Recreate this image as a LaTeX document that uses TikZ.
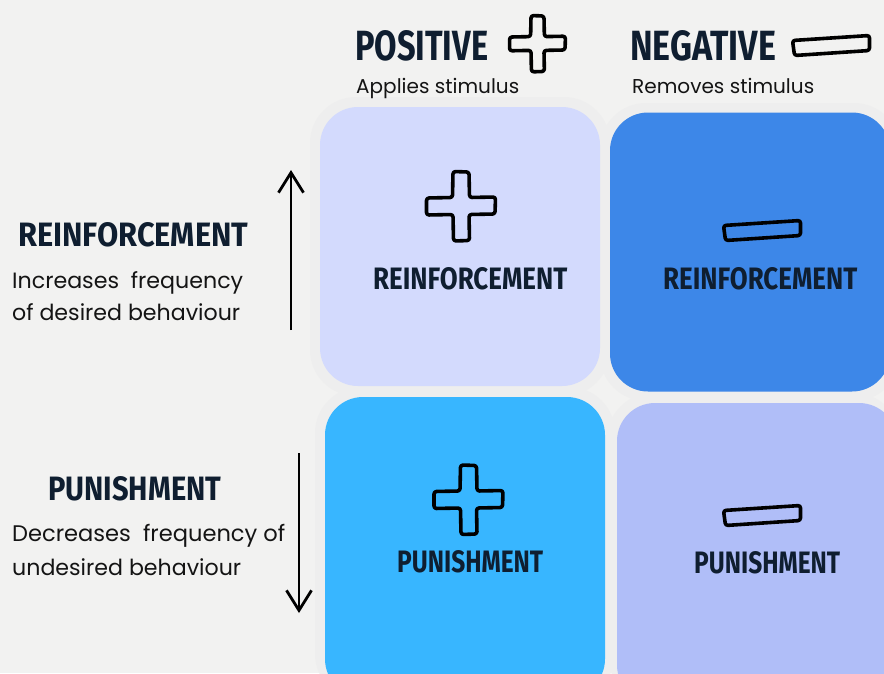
\documentclass[tikz,border=0pt]{standalone}
\usepackage{fontspec}
\usepackage{graphicx}
\setmainfont{Poppins}
\newfontfamily\headfont{Fira Sans}
\usetikzlibrary{arrows.meta}
\definecolor{bgc}{HTML}{F2F2F1}
\definecolor{framec}{HTML}{EEEEEE}
\definecolor{tlc}{HTML}{D3DAFD}
\definecolor{trc}{HTML}{3D87E8}
\definecolor{blc}{HTML}{38B6FF}
\definecolor{brc}{HTML}{B0BEF8}
\definecolor{navy}{HTML}{0F1E30}
\newcommand{\hd}[3]{\resizebox{#1pt}{#2pt}{\headfont\bfseries #3}}
\newcommand{\bd}[2]{\resizebox{#1pt}{!}{#2}}
\tikzset{
  quad/.style={rounded corners=38pt, inner sep=0pt, draw=none},
  framebox/.style={fill=framec, rounded corners=46pt},
  headlbl/.style={inner sep=0pt, anchor=west, text=navy},
  bodylbl/.style={inner sep=0pt, anchor=base west, text=black!92, font=\fontsize{19}{23}\selectfont},
  iconline/.style={draw=black, line width=3.6pt, line join=round, rounded corners=2.5pt},
  arr/.style={line width=2.8pt, -{Straight Barb[length=20pt,width=25pt,line width=2.8pt]}},
  plusicon/.pic={
    \draw[iconline] (-8,-34.5) -- (8,-34) -- (8.5,-8.5) -- (34.5,-9) -- (34,8) -- (8,8.5)
      -- (8.5,34.5) -- (-7.5,35) -- (-8,8.5) -- (-34.5,9) -- (-34.5,-8) -- (-8.5,-8.5) -- cycle;
  },
  minusicon/.pic={
    \draw[iconline] (-38,-5) -- (39,-10) -- (39,5) -- (-36,10) -- cycle;
  }
}
\begin{document}
\begin{tikzpicture}[x=1pt,y=-1pt]
\fill[bgc] (0,0) rectangle (884,673);
\useasboundingbox (0,0) rectangle (884,673);

% frames
\fill[framebox] (310,97) rectangle (610,396);
\fill[framebox] (600,103) rectangle (900,401);
\fill[framebox] (315,387) rectangle (615,700);
\fill[framebox] (607,393) rectangle (900,700);

% quadrants
\node[quad, fill=tlc, minimum width=280pt, minimum height=279pt] (tl) at (460,246.5) {};
\node[quad, fill=trc, minimum width=280pt, minimum height=279pt] (tr) at (750,252) {};
\node[quad, fill=blc, minimum width=280pt, minimum height=300pt] (bl) at (465,547) {};
\node[quad, fill=brc, minimum width=280pt, minimum height=300pt] (br) at (757,553) {};

% column headers
\node[headlbl] (posh) at (355,45.5) {\hd{133}{30}{POSITIVE}};
\pic[scale=0.81] at (537.5,43.5) {plusicon};
\node[headlbl] (negh) at (630,45.5) {\hd{146}{30}{NEGATIVE}};
\pic at (830.5,45.5) {minusicon};
\node[bodylbl] (posd) at (356,93) {\bd{163}{Applies stimulus}};
\node[bodylbl] (negd) at (632,93) {\bd{182}{Removes stimulus}};

% row headers
\node[headlbl] (reinh) at (18,235) {\hd{230}{24}{REINFORCEMENT}};
\node[bodylbl] (reind1) at (12,288) {\bd{231}{Increases\ \ frequency}};
\node[bodylbl] (reind2) at (12,320) {\bd{228}{of desired behaviour}};
\node[headlbl] (punh) at (48,489) {\hd{173}{24}{PUNISHMENT}};
\node[bodylbl] (pund1) at (12,541) {\bd{273}{Decreases\ \ frequency of}};
\node[bodylbl] (pund2) at (12,575) {\bd{229}{undesired behaviour}};

% arrows
\coordinate (upS) at (291,330);
\coordinate (upE) at (291,170);
\draw[arr] (upS) -- (upE);
\coordinate (dnS) at (299,453);
\coordinate (dnE) at (299,613);
\draw[arr] (dnS) -- (dnE);

% quadrant contents
\pic at (461,206) {plusicon};
\node[headlbl] (tll) at (373,279) {\hd{194}{22}{REINFORCEMENT}};
\pic at (761.5,230.5) {minusicon};
\node[headlbl] (trl) at (663,279) {\hd{194}{22}{REINFORCEMENT}};
\pic at (468.5,499.5) {plusicon};
\node[headlbl] (bll) at (397,561.5) {\hd{146}{22}{PUNISHMENT}};
\pic at (761.5,515.5) {minusicon};
\node[headlbl] (brl) at (694,562.5) {\hd{146}{22}{PUNISHMENT}};
\end{tikzpicture}
\end{document}
